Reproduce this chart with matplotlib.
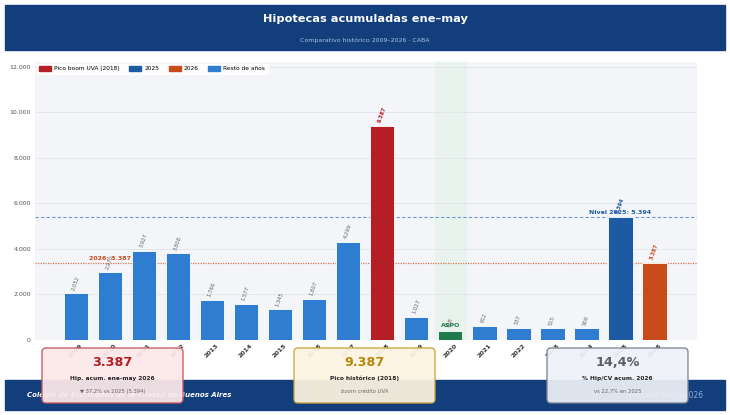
import matplotlib.pyplot as plt
from matplotlib.patches import Rectangle, FancyBboxPatch, Patch
from matplotlib.ticker import FuncFormatter

years = ['2009', '2010', '2011', '2012', '2013', '2014', '2015', '2016', '2017',
         '2018', '2019', '2020', '2021', '2022', '2023', '2024', '2025', '2026']
hipotecas = [2052, 2970, 3927, 3808, 1766, 1577, 1345, 1807, 4299,
             9387, 1027, 398, 612, 537, 515, 509, 5394, 3387]

nivel_2025 = 5394
nivel_2026 = 3387

kpi_values = ['3.387', '9.387', '14,4%']
kpi_titles = ['Hip. acum. ene-may 2026', 'Pico histórico (2018)', '% Hip/CV acum. 2026']
kpi_notes = ['▼ 37,2% vs 2025 (5.394)', 'boom crédito UVA', 'vs 22,7% en 2025']

NAVY = '#123e7c'
C_RESTO = '#2f7dd1'
C_2018 = '#b31f24'
C_2025 = '#1c5aa3'
C_2026 = '#c94a1b'
C_2020 = '#1f7a4d'


def miles(v, pos=None):
    return f'{int(round(v)):,}'.replace(',', '.')


def bar_color(y):
    if y == '2018':
        return C_2018
    if y == '2025':
        return C_2025
    if y == '2026':
        return C_2026
    if y == '2020':
        return C_2020
    return C_RESTO


W, H = 730, 415
fig = plt.figure(figsize=(W / 100, H / 100), dpi=100)
fig.patch.set_facecolor('white')

# área del gráfico principal
ax = fig.add_axes([35 / W, 1 - 340 / H, (697 - 35) / W, (340 - 62) / H])
ax.set_facecolor('#f4f5f9')
x = list(range(len(years)))
cols = [bar_color(y) for y in years]
ax.axvspan(11 - 0.45, 11 + 0.45, color='#e6f3ea', alpha=0.8, zorder=0)
ax.bar(x, hipotecas, width=0.72, color=cols, edgecolor='white', linewidth=0.6, zorder=3)

ax.axhline(nivel_2025, color='#6b9bcc', ls=(0, (3, 2)), lw=0.8, zorder=2)
ax.axhline(nivel_2026, color='#d9784f', ls=(0, (1, 1)), lw=0.9, zorder=2)
ax.text(16, nivel_2025 + 80, f'Nivel 2025: {miles(nivel_2025)}', color='#1c5aa3',
        fontsize=4.5, fontweight='bold', ha='center', va='bottom', zorder=5)
ax.text(1, nivel_2026 + 80, f'2026: {miles(nivel_2026)}', color=C_2026,
        fontsize=4.5, fontweight='bold', ha='center', va='bottom', zorder=5)

for xi, y, v in zip(x, years, hipotecas):
    c, fw = '#666666', 'normal'
    if y == '2018':
        c, fw = C_2018, 'bold'
    elif y == '2025':
        c, fw = C_2025, 'bold'
    elif y == '2026':
        c, fw = C_2026, 'bold'
    ax.text(xi, v + 100, miles(v), color=c, fontsize=3.8, fontweight=fw,
            rotation=70, ha='center', va='bottom', zorder=5)
    if y == '2020':
        ax.text(xi, v + 150, 'ASPO', color=C_2020, fontsize=4.5, fontweight='bold',
                ha='center', va='bottom', zorder=6)

ax.set_xlim(-1.2, 18.25)
ax.set_ylim(0, 12200)
ax.set_yticks(range(0, 12001, 2000))
ax.yaxis.set_major_formatter(FuncFormatter(miles))
ax.set_xticks(x)
ax.set_xticklabels(years, rotation=45, fontsize=4.5, fontweight='bold', color='#333333')
ax.tick_params(axis='y', labelsize=4.5, labelcolor='#555555', length=0, pad=3)
ax.tick_params(axis='x', length=0, pad=2)
ax.grid(axis='y', color='#e2e4ea', lw=0.6, zorder=1)
ax.set_axisbelow(True)
for s in ax.spines.values():
    s.set_visible(False)

handles = [Patch(color=C_2018, label='Pico boom UVA (2018)'),
           Patch(color=C_2025, label='2025'),
           Patch(color=C_2026, label='2026'),
           Patch(color=C_RESTO, label='Resto de años')]
ax.legend(handles=handles, loc='upper left', ncol=4, fontsize=4.2, frameon=True,
          framealpha=0.9, edgecolor='white', handlelength=2.0, handleheight=0.8,
          handletextpad=0.6, columnspacing=1.6, borderaxespad=0.3)

# capa superior en píxeles para encabezado, pie y tarjetas
ov = fig.add_axes([0, 0, 1, 1], zorder=10)
ov.set_xlim(0, W)
ov.set_ylim(H, 0)
ov.axis('off')
ov.patch.set_alpha(0)

ov.add_patch(Rectangle((5, 5), 720, 45, color=NAVY, zorder=1))
ov.text(365, 19, 'Hipotecas acumuladas ene–may', color='white', fontsize=8.2,
        fontweight='bold', ha='center', va='center', zorder=2)
ov.text(365, 40, 'Comparativo histórico 2009–2026 · CABA', color='#a9c4e8',
        fontsize=4.5, ha='center', va='center', zorder=2)

ov.add_patch(Rectangle((5, 380), 720, 30, color=NAVY, zorder=1))
ov.text(27, 395, 'Colegio de Escribanos de la Ciudad de Buenos Aires', color='white',
        fontsize=5, fontweight='bold', style='italic', ha='left', va='center', zorder=2)
ov.text(703, 395, 'Informe Mayo 2026', color='#8fb0d8', fontsize=5.5,
        ha='right', va='center', zorder=2)

cards = [(42, '#fce9ea', '#c8545a', '#b31f24'),
         (294, '#fdf5e1', '#c9a43a', '#b8860b'),
         (547, '#eef2f8', '#7c8290', '#5a5f6b')]
for (cx, fc, ec, nc), val, tit, nota in zip(cards, kpi_values, kpi_titles, kpi_notes):
    ov.add_patch(FancyBboxPatch((cx, 348), 141, 55, boxstyle='round,pad=0,rounding_size=4',
                                facecolor=fc, edgecolor=ec, lw=1.0, alpha=0.93, zorder=5))
    ov.text(cx + 70.5, 362, val, color=nc, fontsize=9.2, fontweight='bold',
            ha='center', va='center', zorder=6)
    ov.text(cx + 70.5, 378, tit, color='#222222', fontsize=4.2, fontweight='bold',
            ha='center', va='center', zorder=6)
    ov.text(cx + 70.5, 391, nota, color='#666666', fontsize=3.8,
            style='italic' if 'boom' in nota else 'normal',
            ha='center', va='center', zorder=6)

fig.savefig('out.png', dpi=100)
